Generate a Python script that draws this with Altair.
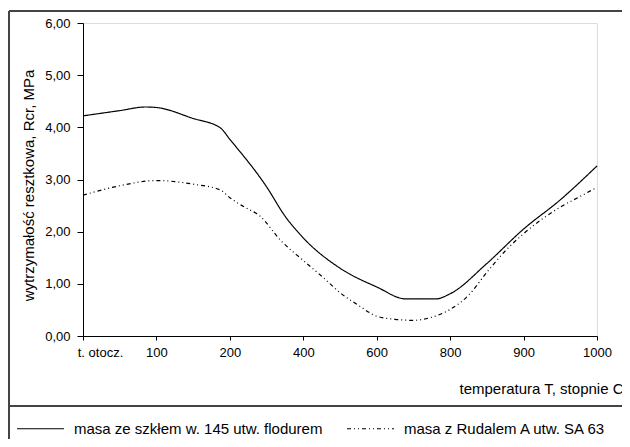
import altair as alt
import pandas as pd
import json

# category axis (equally spaced categories)
x_labels = ["t. otocz.", "100", "200", "400", "600", "800", "900", "1000"]

series_names = ["masa ze szkłem w. 145 utw. flodurem", "masa z Rudalem A utw. SA 63"]

# positions along the category axis (0 = t. otocz., 7 = 1000) and values
solid_pos = [0, 0.5, 0.85, 1, 1.5, 1.87, 2, 2.5, 2.75, 3, 3.5, 4, 4.4, 4.8, 5, 5.5, 6, 6.5, 7]
solid_val = [4.22, 4.32, 4.39, 4.38, 4.17, 3.99, 3.77, 2.86, 2.30, 1.88, 1.30, 0.94, 0.71, 0.71, 0.81, 1.39, 2.05, 2.61, 3.26]

dash_pos = [0, 0.5, 1, 1.25, 1.5, 1.87, 2, 2.2, 2.4, 2.7, 2.98, 3.28, 3.5, 3.75, 4, 4.25, 4.5, 4.75, 5, 5.25, 5.5, 5.75, 6, 6.5, 6.75, 7]
dash_val = [2.70, 2.88, 2.98, 2.96, 2.91, 2.80, 2.65, 2.47, 2.31, 1.82, 1.47, 1.11, 0.83, 0.59, 0.38, 0.32, 0.30, 0.36, 0.51, 0.78, 1.22, 1.63, 1.96, 2.47, 2.66, 2.85]

rows = []
for p, v in zip(solid_pos, solid_val):
    rows.append({"pos": p, "val": v, "series": series_names[0]})
for p, v in zip(dash_pos, dash_val):
    rows.append({"pos": p, "val": v, "series": series_names[1]})
df = pd.DataFrame(rows)

FONT = "Liberation Sans"
label_expr = json.dumps(x_labels) + "[datum.value]"

lines = alt.Chart(df).mark_line(interpolate="monotone", strokeWidth=1.2, color="black").encode(
    x=alt.X("pos:Q", scale=alt.Scale(domain=[0, 7], nice=False),
            axis=alt.Axis(values=list(range(8)), labelExpr=label_expr,
                          title="temperatura T, stopnie C",
                          titleX=540, titleY=52, titleAlign="right", titleBaseline="middle",
                          titleFont=FONT, titleFontSize=15, titleFontWeight="normal",
                          labelFont=FONT, labelFontSize=13, labelColor="black",
                          labelOffset={"condition": {"test": "datum.value === 0", "value": 17}, "value": 0},
                          tickSize=4, labelPadding=6, domainColor="black", tickColor="black",
                          grid=False, labelFlush=False)),
    y=alt.Y("val:Q", scale=alt.Scale(domain=[0, 6], nice=False),
            axis=alt.Axis(values=[0, 1, 2, 3, 4, 5, 6],
                          labelExpr="replace(format(datum.value, '.2f'), '.', ',')",
                          title="wytrzymałość resztkowa, Rcr, MPa",
                          titleX=-55, titleY=162, titleAngle=270, titleAlign="center",
                          titleBaseline="middle",
                          titleFont=FONT, titleFontSize=15, titleFontWeight="normal",
                          labelFont=FONT, labelFontSize=13, labelColor="black",
                          tickSize=6, labelPadding=7, domainColor="black", tickColor="black",
                          grid=False)),
    strokeDash=alt.StrokeDash("series:N",
                              scale=alt.Scale(domain=series_names, range=[[1, 0], [4, 3, 1, 3, 1, 3]]),
                              legend=alt.Legend(orient="none", legendX=-67, legendY=381,
                                                direction="horizontal", columns=2, title=None,
                                                padding=0, labelLimit=0,
                                                symbolType="stroke", symbolSize=2209,
                                                symbolStrokeColor="black", symbolStrokeWidth=1.2,
                                                labelFont=FONT, labelFontSize=15, labelColor="black",
                                                labelOffset=9, columnPadding=21)),
)

frame_color = "#444444"
top_line = alt.Chart(df).mark_rule(color=frame_color, strokeWidth=1.5).encode(
    x=alt.value(-74), x2=alt.value(560), y=alt.value(-12))
left_line = alt.Chart(df).mark_rule(color=frame_color, strokeWidth=1.5).encode(
    x=alt.value(-74), y=alt.value(-12), y2=alt.value(430))
sep_line = alt.Chart(df).mark_rule(color=frame_color, strokeWidth=1.5).encode(
    x=alt.value(-74), x2=alt.value(560), y=alt.value(383))

chart = alt.layer(top_line, left_line, sep_line, lines).properties(
    width=514, height=313,
    autosize=alt.AutoSizeParams(type="none"),
    padding={"left": 75, "top": 15, "right": 25, "bottom": 103},
).configure_view(stroke="#888888", strokeWidth=1.2).configure(background="white")

chart.save("out.html", embed_options={"renderer": "svg", "actions": False})
